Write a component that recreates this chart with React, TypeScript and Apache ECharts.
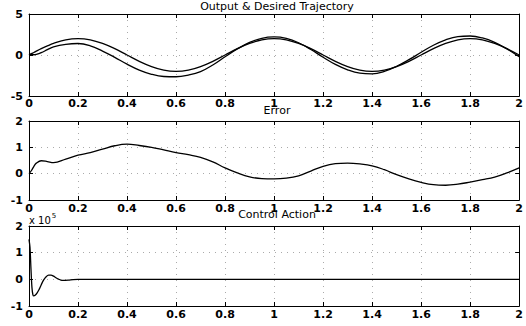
import React, { useEffect, useRef } from "react";
import * as echarts from "echarts";

const timeAxis = [0, 0.01, 0.02, 0.03, 0.05, 0.075, 0.1, 0.15, 0.2, 0.25, 0.3, 0.35, 0.4, 0.45, 0.5, 0.55, 0.6, 0.65, 0.7, 0.75, 0.8, 0.85, 0.9, 0.95, 1.0, 1.05, 1.1, 1.15, 1.2, 1.25, 1.3, 1.35, 1.4, 1.45, 1.5, 1.55, 1.6, 1.65, 1.7, 1.75, 1.8, 1.85, 1.9, 1.95, 2.0];
const desired = [0, 0.16, 0.31, 0.47, 0.77, 1.11, 1.41, 1.85, 2.0, 1.85, 1.41, 0.77, 0, -0.77, -1.41, -1.85, -2.0, -1.85, -1.41, -0.77, 0, 0.77, 1.41, 1.85, 2.0, 1.85, 1.41, 0.77, 0, -0.77, -1.41, -1.85, -2.0, -1.85, -1.41, -0.77, 0, 0.77, 1.41, 1.85, 2.0, 1.85, 1.41, 0.77, 0];
const output = [0, 0.04, 0.03, 0.07, 0.28, 0.65, 0.99, 1.3, 1.4, 1.12, 0.48, -0.29, -1.12, -1.84, -2.35, -2.62, -2.65, -2.45, -2.03, -1.22, -0.22, 0.74, 1.53, 2.04, 2.2, 2.02, 1.49, 0.67, -0.28, -1.15, -1.81, -2.22, -2.3, -2.0, -1.37, -0.57, 0.33, 1.19, 1.85, 2.25, 2.32, 2.08, 1.54, 0.74, -0.22];
const errorVals = [0, 0.12, 0.28, 0.4, 0.49, 0.46, 0.42, 0.55, 0.7, 0.8, 0.93, 1.06, 1.12, 1.07, 1.0, 0.9, 0.8, 0.72, 0.62, 0.45, 0.22, 0.03, -0.12, -0.19, -0.2, -0.17, -0.08, 0.1, 0.28, 0.38, 0.4, 0.37, 0.3, 0.15, -0.04, -0.2, -0.33, -0.42, -0.44, -0.4, -0.32, -0.23, -0.13, 0.03, 0.22];
const controlTime = [0, 0.004, 0.008, 0.012, 0.016, 0.02, 0.03, 0.04, 0.05, 0.06, 0.07, 0.08, 0.09, 0.1, 0.11, 0.12, 0.13, 0.14, 0.16, 0.18, 0.2, 0.6, 1.0, 1.4, 2.0];
const controlVals = [1.5, 1.2, 0.4, -0.3, -0.58, -0.62, -0.55, -0.4, -0.2, -0.02, 0.1, 0.16, 0.16, 0.12, 0.06, 0.01, -0.03, -0.04, -0.03, -0.01, 0, 0, 0, 0, 0];

const titles = ["Output & Desired Trajectory", "Error", "Control Action"];
const yRanges = [
  { min: -5, max: 5, interval: 5 },
  { min: -1, max: 2, interval: 1 },
  { min: -1, max: 2, interval: 1 },
];
const xRange = { min: 0, max: 2, interval: 0.2 };
const scaleNote = "5";

const FONT = "DejaVu Sans";

export default function App() {
  const ref = useRef<HTMLDivElement>(null);
  useEffect(() => {
    if (!ref.current) return;
    const chart = echarts.init(ref.current, undefined, { renderer: "svg" });
    const grids = [
      { left: 29, right: 1, top: 14, height: 82 },
      { left: 29, right: 1, top: 121, height: 79 },
      { left: 29, right: 1, top: 226, height: 80 },
    ];
    const labelMargins = [2, 3, 3];
    const xAxes: any[] = [];
    const yAxes: any[] = [];
    grids.forEach((g, i) => {
      xAxes.push({
        type: "value",
        gridIndex: i,
        min: xRange.min,
        max: xRange.max,
        interval: xRange.interval,
        position: "bottom",
        axisLine: { show: true, onZero: false, lineStyle: { color: "#000", width: 1 } },
        axisTick: { show: true, inside: true, length: 4, lineStyle: { color: "#000" } },
        axisLabel: {
          color: "#000",
          fontFamily: FONT,
          fontWeight: "bold",
          fontSize: 11,
          margin: labelMargins[i],
          formatter: (v: number) => String(Math.round(v * 10) / 10),
        },
        splitLine: { show: true, lineStyle: { color: "#aaa", type: [1, 5], width: 1 } },
      });
      xAxes.push({
        type: "value",
        gridIndex: i,
        min: xRange.min,
        max: xRange.max,
        interval: xRange.interval,
        position: "top",
        axisLine: { show: true, onZero: false, lineStyle: { color: "#000", width: 1 } },
        axisTick: { show: true, inside: true, length: 4, lineStyle: { color: "#000" } },
        axisLabel: { show: false },
        splitLine: { show: false },
      });
      const yr = yRanges[i];
      yAxes.push({
        type: "value",
        gridIndex: i,
        min: yr.min,
        max: yr.max,
        interval: yr.interval,
        position: "left",
        axisLine: { show: true, onZero: false, lineStyle: { color: "#000", width: 1 } },
        axisTick: { show: true, inside: true, length: 4, lineStyle: { color: "#000" } },
        axisLabel: {
          color: "#000",
          fontFamily: FONT,
          fontWeight: "bold",
          fontSize: 11,
          margin: 6,
        },
        splitLine: { show: true, lineStyle: { color: "#aaa", type: [1, 5], width: 1 } },
      });
      yAxes.push({
        type: "value",
        gridIndex: i,
        min: yr.min,
        max: yr.max,
        interval: yr.interval,
        position: "right",
        axisLine: { show: true, onZero: false, lineStyle: { color: "#000", width: 1 } },
        axisTick: { show: true, inside: true, length: 4, lineStyle: { color: "#000" } },
        axisLabel: { show: false },
        splitLine: { show: false },
      });
    });

    const lineStyle = { color: "#000", width: 1.3 };
    const mk = (xs: number[], ys: number[]) => xs.map((t, k) => [t, ys[k]]);
    const series: any[] = [
      { type: "line", xAxisIndex: 0, yAxisIndex: 0, data: mk(timeAxis, desired), showSymbol: false, smooth: 0.4, lineStyle },
      { type: "line", xAxisIndex: 0, yAxisIndex: 0, data: mk(timeAxis, output), showSymbol: false, smooth: 0.4, lineStyle },
      { type: "line", xAxisIndex: 2, yAxisIndex: 2, data: mk(timeAxis, errorVals), showSymbol: false, smooth: 0.4, lineStyle },
      { type: "line", xAxisIndex: 4, yAxisIndex: 4, data: mk(controlTime, controlVals), showSymbol: false, smooth: 0.3, lineStyle },
    ];

    const titleY = [6, 110, 214];
    const graphic: any[] = titles.map((t, i) => ({
      type: "text",
      x: 277,
      y: titleY[i],
      style: {
        text: t,
        fill: "#000",
        font: `11px "${FONT}"`,
        textAlign: "center",
        textVerticalAlign: "middle",
      },
      z: 10,
    }));
    graphic.push({
      type: "text",
      x: 29,
      y: 218,
      style: {
        text: "{a|x 10}{b|" + scaleNote + "}",
        rich: {
          a: { fontFamily: FONT, fontSize: 10, fill: "#000", padding: [5, 0, 0, 0] },
          b: { fontFamily: FONT, fontSize: 7, fill: "#000", padding: [0, 0, 4, 1] },
        },
        textVerticalAlign: "middle",
      },
      z: 10,
    });

    chart.setOption({
      animation: false,
      backgroundColor: "#fff",
      grid: grids.map((g) => ({ ...g, show: false, containLabel: false })),
      xAxis: xAxes,
      yAxis: yAxes,
      series,
      graphic,
    });
    return () => chart.dispose();
  }, []);
  return (
    <div
      ref={ref}
      style={{ position: "fixed", left: 0, top: 0, width: 526, height: 326, background: "#fff" }}
    />
  );
}
